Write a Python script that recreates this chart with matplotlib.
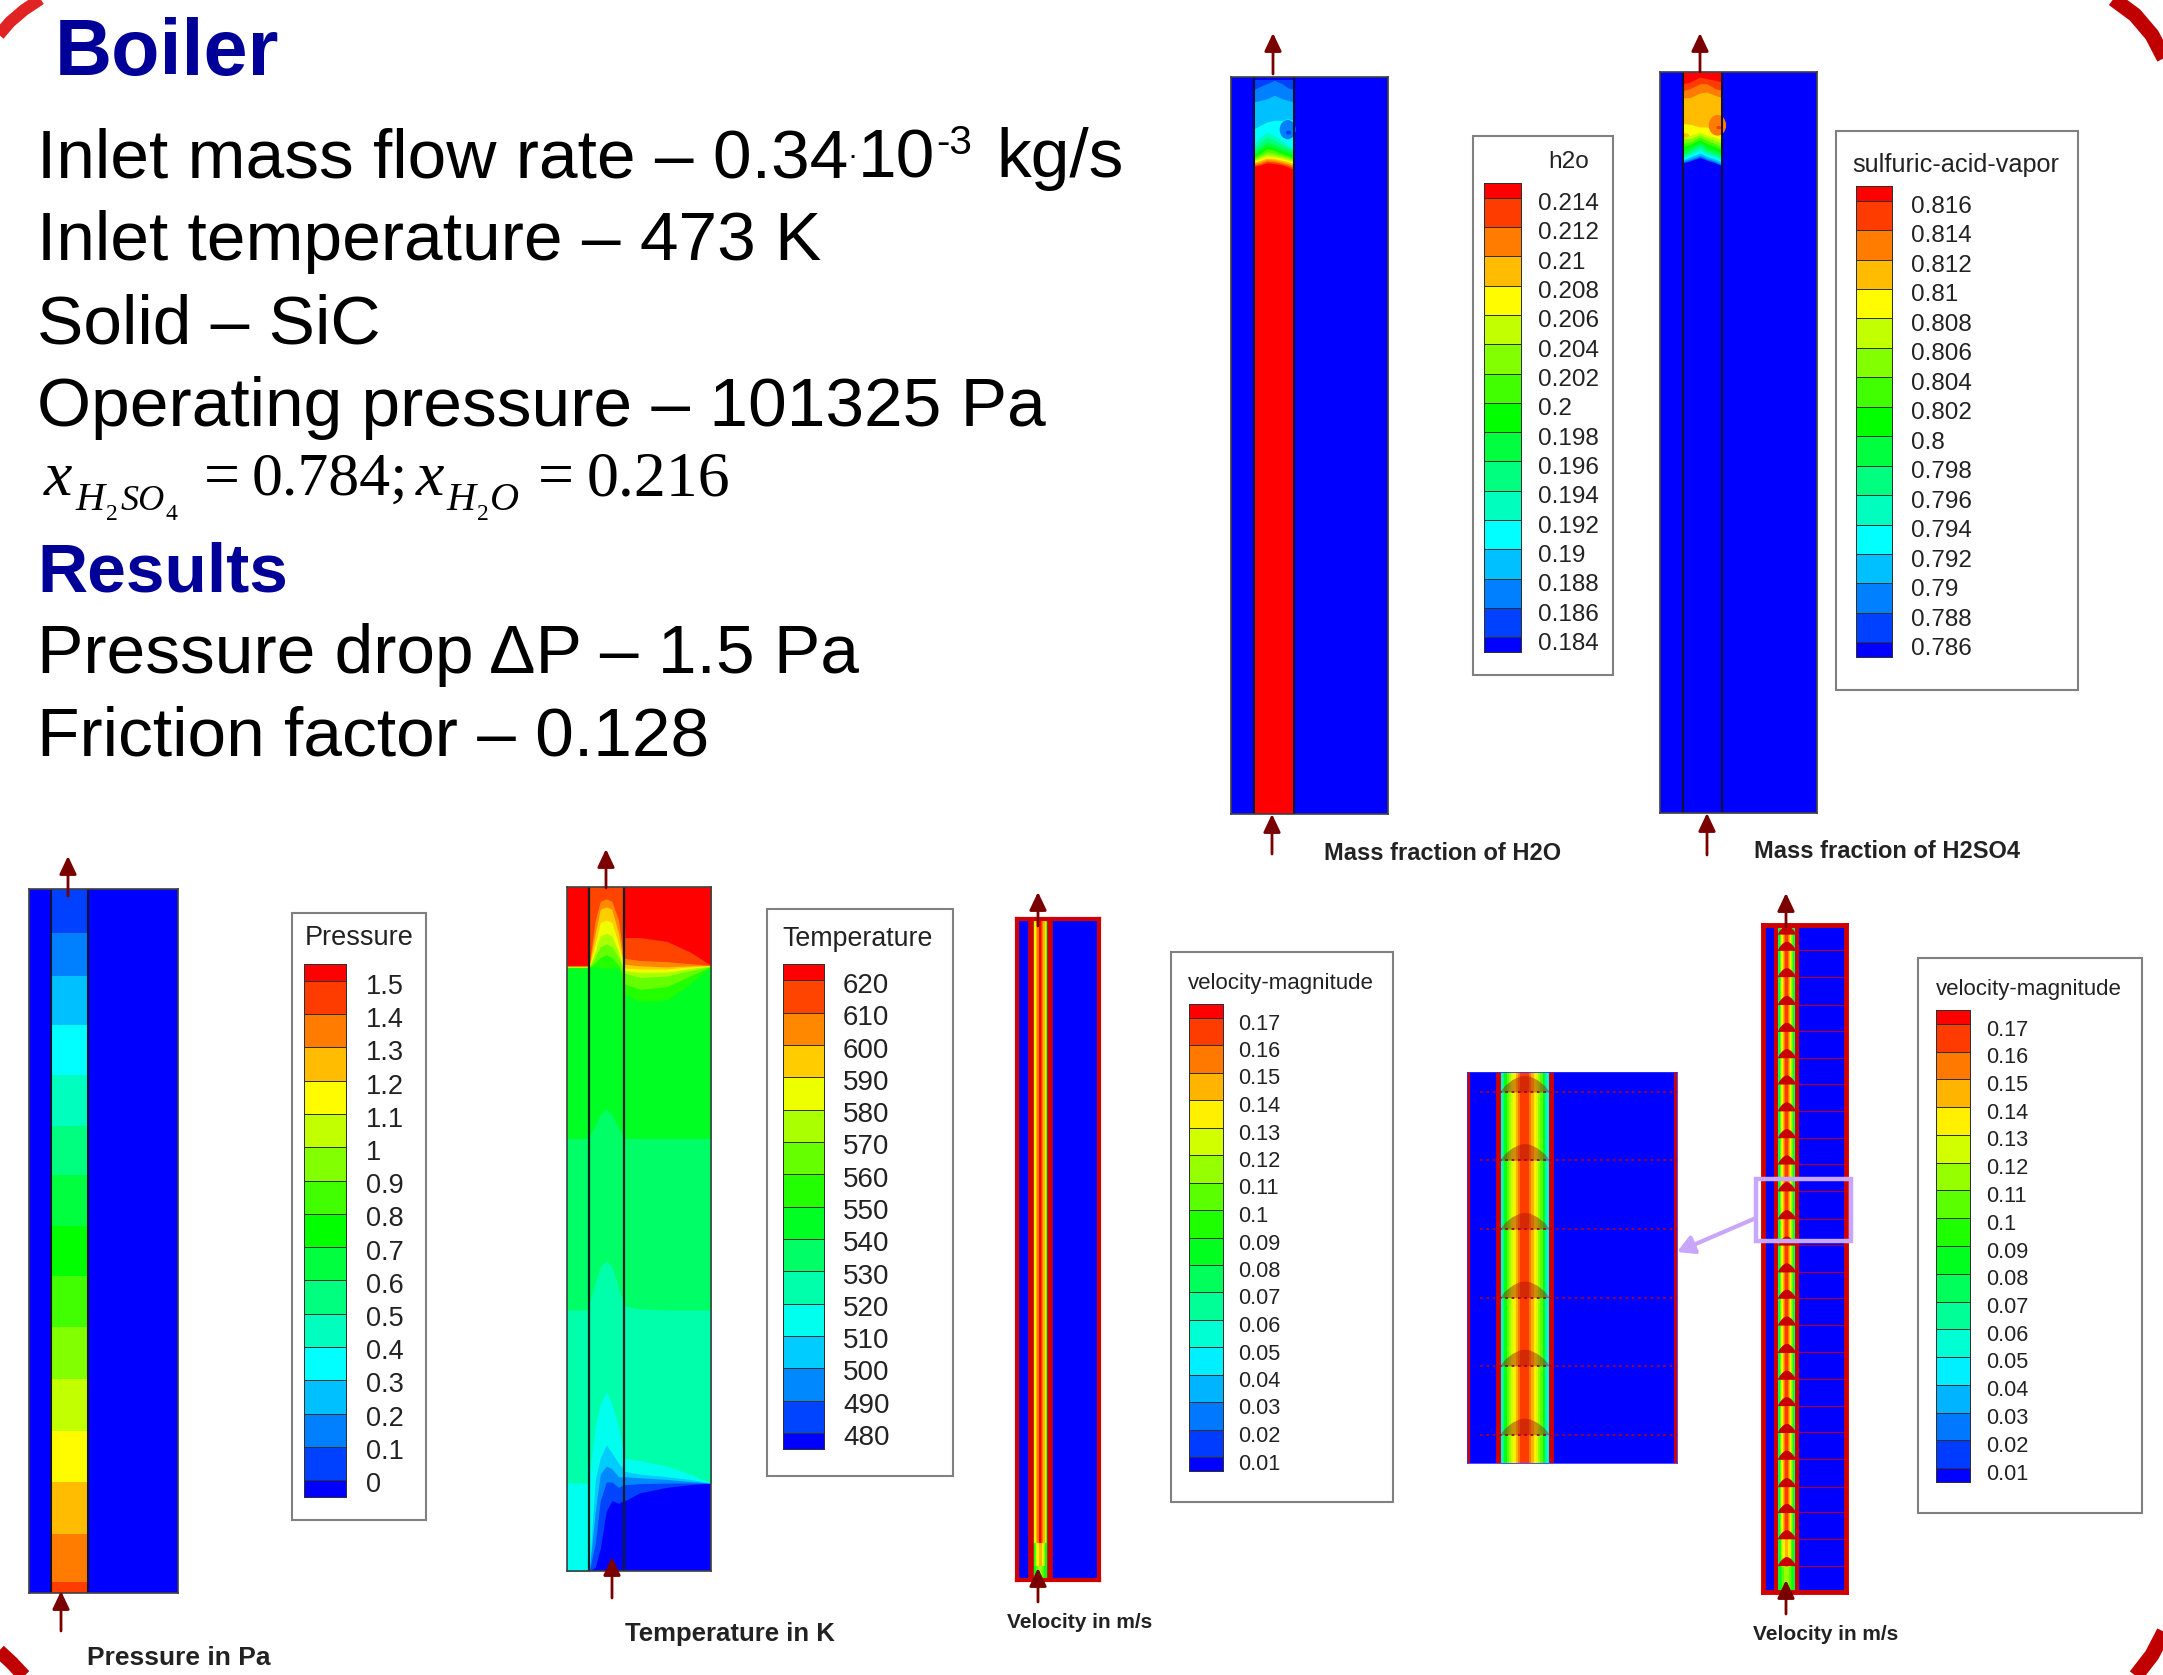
"""Boiler slide: simulation contour panels with their legends and the run summary."""

import numpy as np
import matplotlib

matplotlib.use("Agg")
import matplotlib.pyplot as plt
from matplotlib.colors import LinearSegmentedColormap, ListedColormap
from matplotlib.patches import Ellipse, Rectangle

W, H = 2163, 1675

RAINBOW = ["#0000ff", "#00ffff", "#00ff00", "#ffff00", "#ff0000"]
ARROW = "#7a0000"
NAVY = "#000099"
WALL = "#d00000"
LILAC = "#c8a6fb"

# legend tick labels
PRESSURE_LABELS = ["1.5", "1.4", "1.3", "1.2", "1.1", "1", "0.9", "0.8", "0.7", "0.6",
                   "0.5", "0.4", "0.3", "0.2", "0.1", "0"]
TEMP_LABELS = ["620", "610", "600", "590", "580", "570", "560", "550", "540", "530",
               "520", "510", "500", "490", "480"]
H2O_LABELS = ["0.214", "0.212", "0.21", "0.208", "0.206", "0.204", "0.202", "0.2",
              "0.198", "0.196", "0.194", "0.192", "0.19", "0.188", "0.186", "0.184"]
ACID_LABELS = ["0.816", "0.814", "0.812", "0.81", "0.808", "0.806", "0.804", "0.802",
               "0.8", "0.798", "0.796", "0.794", "0.792", "0.79", "0.788", "0.786"]
VEL_LABELS = ["0.17", "0.16", "0.15", "0.14", "0.13", "0.12", "0.11", "0.1", "0.09",
              "0.08", "0.07", "0.06", "0.05", "0.04", "0.03", "0.02", "0.01"]

# pressure channel: band edges down the channel and the colour level of each band
PRESSURE_EDGES = [92, 175, 255, 348, 442, 537, 630, 725, 820, 915, 1013, 1110, 1207, 1305, 1395, 1415]
PRESSURE_LEVELS = [1, 2, 3, 4, 5, 6, 7, 8, 9, 10, 11, 12, 13, 14, 15]

# temperature: lower edge of each colour level (0 to 15) at the columns in TEMP_X
TEMP_X = [80, 145, 147, 165, 180, 198, 215, 235, 250, 254, 300, 380, 450, 513]
TEMP_EDGES = [
    [1372] * 14,
    [1372, 1372, 1372, 1365, 1330, 1260, 1240, 1245, 1240, 1240, 1225, 1215, 1210, 1207],
    [1372, 1372, 1372, 1320, 1240, 1205, 1205, 1215, 1210, 1210, 1208, 1207, 1207, 1207],
    [1372, 1372, 1372, 1260, 1190, 1175, 1180, 1195, 1195, 1195, 1197, 1200, 1204, 1207],
    [1372, 1372, 1372, 1200, 1160, 1135, 1150, 1170, 1180, 1185, 1190, 1195, 1200, 1207],
    [1207, 1207, 1190, 1100, 1060, 1035, 1060, 1100, 1150, 1160, 1165, 1175, 1190, 1207],
    [882, 882, 870, 830, 800, 790, 800, 840, 870, 875, 880, 882, 882, 882],
    [560, 560, 555, 535, 515, 505, 515, 540, 558, 560, 560, 560, 560, 560],
    [240, 240, 240, 238, 240, 240, 240, 240, 285, 290, 303, 300, 270, 238],
    [239, 239, 239, 230, 220, 215, 220, 235, 255, 270, 280, 275, 255, 237],
    [238, 238, 238, 220, 200, 195, 200, 220, 245, 250, 258, 255, 245, 237],
    [238, 238, 237, 210, 180, 175, 180, 210, 240, 245, 248, 248, 241, 236],
    [237, 237, 236, 195, 155, 150, 155, 195, 236, 240, 242, 242, 238, 236],
    [237, 237, 235, 175, 130, 125, 130, 175, 232, 233, 236, 238, 236, 235],
    [236, 236, 232, 150, 115, 110, 115, 150, 220, 222, 226, 228, 232, 235],
    [235, 235, 88, 88, 88, 88, 88, 88, 88, 183, 183, 190, 210, 235],
]

# h2o mass fraction: lower edge of each colour level (0 to 15) across the channel, 16 fills the rest
H2O_X = [161, 180, 200, 222, 245, 262, 280]
H2O_EDGES = [
    [238, 238, 238, 238, 238, 238, 238],
    [268, 258, 250, 240, 250, 262, 268],
    [305, 300, 295, 285, 295, 300, 305],
    [385, 375, 365, 360, 360, 355, 360],
    [430, 410, 395, 405, 420, 435, 445],
    [445, 425, 410, 420, 432, 440, 450],
    [455, 440, 425, 432, 442, 448, 458],
    [465, 450, 435, 442, 452, 458, 465],
    [470, 458, 445, 450, 460, 465, 472],
    [475, 465, 455, 458, 465, 470, 478],
    [480, 470, 462, 465, 470, 475, 482],
    [483, 475, 468, 470, 475, 480, 486],
    [486, 480, 473, 475, 480, 484, 490],
    [490, 485, 478, 480, 485, 490, 495],
    [495, 490, 483, 485, 490, 495, 502],
    [498, 494, 488, 490, 494, 500, 508],
]
H2O_BLOBS = [(262, 388, 48, 58, 2), (265, 397, 16, 12, 1)]

# sulfuric acid: lower edge of colour levels 16 down to 1 across the channel, 0 fills the rest
ACID_X = [130, 150, 180, 200, 225, 247]
ACID_EDGES = [
    [190, 185, 170, 175, 180, 185],
    [210, 205, 190, 190, 205, 210],
    [232, 232, 218, 215, 225, 232],
    [310, 312, 320, 320, 335, 345],
    [345, 345, 335, 345, 350, 360],
    [355, 355, 343, 352, 360, 370],
    [368, 365, 350, 360, 370, 380],
    [378, 372, 358, 370, 378, 390],
    [392, 380, 365, 380, 390, 400],
    [402, 390, 372, 388, 398, 408],
    [408, 398, 382, 396, 405, 415],
    [412, 404, 390, 402, 410, 420],
    [418, 410, 398, 408, 416, 426],
    [422, 416, 405, 414, 422, 432],
    [426, 420, 410, 418, 426, 436],
    [428, 422, 412, 420, 428, 438],
]
ACID_BLOBS = [(232, 315, 52, 62, 14), (236, 322, 16, 10, 15), (137, 345, 20, 12, 13)]

# velocity colour level across the channel: developed flow, then near the inlet
VEL_PROFILE = [4, 6, 8, 10, 11, 12, 13, 14, 15, 16, 16, 16, 16, 15, 14, 13, 12, 11, 10, 8, 6, 4]
VEL_CORE = [6, 8, 10, 12, 13, 14, 14, 15, 15, 16, 17, 17, 16, 15, 15, 14, 14, 13, 12, 10, 8, 6]
VEL_INLET_A = [4, 6, 8, 9, 10, 11, 12, 13, 13, 14, 14, 14, 14, 13, 13, 12, 11, 10, 9, 8, 6, 4]
VEL_INLET_B = [5, 7, 8, 8, 9, 9, 10, 10, 11, 11, 11, 11, 11, 11, 10, 10, 9, 9, 8, 8, 7, 5]

VEL1_ROW_EDGES = [115, 1340, 1385, 1412]
VEL2_ROW_EDGES = [88, 1300, 1355, 1405]
VEL2_LINES = [138, 190, 245, 298, 350, 402, 455, 508, 560, 613, 668, 720, 773, 825, 878,
              932, 985, 1037, 1090, 1143, 1197, 1248, 1300, 1353]
INSET_LINES = [125, 330, 537, 743, 948, 1155]
DOME_X = [0, 0.1, 0.25, 0.4, 0.5, 0.6, 0.75, 0.9, 1]
DOME_H = [0, 0.4, 0.75, 0.96, 1, 0.96, 0.75, 0.4, 0]

# red frame showing at the slide corners
CORNERS = [
    ([42, 24, 10, -2], [-2, 10, 22, 36], "#e02424", 12),
    ([2112, 2135, 2152, 2166], [-2, 15, 35, 62], "#c00000", 15),
    ([2166, 2152, 2135], [1628, 1655, 1677], "#c00000", 15),
    ([-2, 12, 26], [1650, 1663, 1678], "#c00000", 14),
]

SUMMARY = [
    ("Inlet mass flow rate – 0.34", 177),
    ("Inlet temperature – 473 K", 260),
    ("Solid – SiC", 343),
    ("Operating pressure – 101325 Pa", 426),
    ("Pressure drop ΔP – 1.5 Pa", 673),
    ("Friction factor – 0.128", 756),
]

fig = plt.figure(figsize=(W / 100, H / 100), dpi=100, facecolor="white")
ramp = LinearSegmentedColormap.from_list("fluent", RAINBOW)

page = fig.add_axes([0, 0, 1, 1], zorder=10)
page.set_xlim(0, W)
page.set_ylim(H, 0)
page.set_autoscale_on(False)
page.axis("off")
page.patch.set_alpha(0)


def levels(n):
    return ListedColormap([ramp(i / (n - 1)) for i in range(n)])


def panel(box, xlim, ylim, edge="#404040", lw=1.2):
    x0, y0, x1, y1 = box
    ax = fig.add_axes([x0 / W, 1 - y1 / H, (x1 - x0) / W, (y1 - y0) / H], zorder=1)
    ax.set_xlim(*xlim)
    ax.set_ylim(ylim[1], ylim[0])
    ax.set_autoscale_on(False)
    ax.set_xticks([])
    ax.set_yticks([])
    ax.set_facecolor("#0000ff")
    for s in ax.spines.values():
        s.set_color(edge)
        s.set_linewidth(lw)
    return ax


def legend(box, title, title_xy, title_size, bar, labels, label_x, label_ys, size):
    x0, y0, x1, y1 = box
    page.add_patch(Rectangle((x0, y0), x1 - x0, y1 - y0, fc="white", ec="#808080", lw=1.5))
    page.text(title_xy[0], title_xy[1] + 2, title, ha="center", va="center", fontsize=title_size,
              family="Liberation Sans", color="#222222")
    bx0, by0, bx1, by1 = bar
    n = len(labels) + 1
    step = (by1 - by0) / (n - 1)
    edges = np.r_[by0, by0 + step / 2 + step * np.arange(n - 1), by1]
    page.pcolormesh([bx0, bx1], edges, np.arange(n)[::-1].reshape(-1, 1), cmap=levels(n),
                    vmin=-0.5, vmax=n - 0.5, edgecolors="#303030", linewidth=0.7)
    for lab, y in zip(labels, np.linspace(label_ys[0], label_ys[1], len(labels))):
        page.text(label_x, y + 2, lab, ha="left", va="center", fontsize=size,
                  family="Liberation Sans", color="#222222")


def bands(ax, xs, rows, ks, top, colors):
    for k, row in zip(ks, rows):
        ax.fill_between(xs, top, row, color=colors(k), lw=0)


def blobs(ax, items, colors):
    for x, y, w, h, k in items:
        ax.add_patch(Ellipse((x, y), w, h, fc=colors(k), ec="none"))


def channel(ax, x0, x1, row_edges, profiles, n=18):
    xs = np.linspace(x0, x1, len(profiles[0]) + 1)
    ax.pcolormesh(xs, row_edges, np.array(profiles), cmap=levels(n), vmin=-0.5, vmax=n - 0.5,
                  shading="flat")


def domes(ax, x0, x1, lines, height, color, alpha=1.0):
    xs = x0 + np.array(DOME_X) * (x1 - x0)
    for y in lines:
        ax.fill_between(xs, y - np.array(DOME_H) * height, y, color=color, alpha=alpha, lw=0)


def arrow(x, y_from, y_to):
    page.annotate("", xy=(x, y_to), xytext=(x, y_from),
                  arrowprops=dict(arrowstyle="-|>,head_length=0.55,head_width=0.26", color=ARROW,
                                  lw=2, mutation_scale=20, shrinkA=0, shrinkB=0))


def caption(x, y, text, size):
    page.text(x, y + 2, text, ha="left", va="center", fontsize=size, fontweight="bold",
              family="Liberation Sans", color="#222222")


# corners first so everything else sits on top
for xs, ys, c, lw_px in CORNERS:
    page.plot(xs, ys, color=c, lw=lw_px * 0.72, solid_capstyle="butt")

# ---- text block
page.text(55, 75, "Boiler", fontsize=57, fontweight="bold", color=NAVY, family="Liberation Sans")
page.text(37, 591, "Results", fontsize=50, fontweight="bold", color=NAVY, family="Liberation Sans")
for line, base in SUMMARY:
    page.text(37, base, line, fontsize=50, color="black", family="Liberation Sans")
page.text(852, 165, "·", ha="center", fontsize=22, color="black", family="Liberation Sans")
page.text(858, 177, "10", fontsize=50, color="black", family="Liberation Sans")
page.text(936, 154, "-3", fontsize=29, color="black", family="Liberation Sans")
page.text(996, 177, "kg/s", fontsize=50, color="black", family="Liberation Sans")

SERIF = "Liberation Serif"
for x, base, s, size, style in [
    (44, 495, "x", 46, "italic"), (75, 510, "H", 29, "italic"), (106, 520, "2", 17, "normal"),
    (121, 510, "SO", 26, "italic"), (166, 520, "4", 17, "normal"), (204, 495, "=", 46, "normal"),
    (252, 495, "0.784;", 44.5, "normal"), (416, 495, "x", 46, "italic"), (446, 510, "H", 29, "italic"),
    (477, 520, "2", 17, "normal"), (490, 510, "O", 29, "italic"), (538, 495, "=", 46, "normal"),
    (587, 495, "0.216", 46, "normal"),
]:
    page.text(x, base, s, fontsize=size, style=style, family=SERIF, color="black")

# ---- pressure
c17 = levels(17)
ax = panel((29, 889, 178, 1593), (87, 533), (92, 1415))
ax.pcolormesh([153, 264], PRESSURE_EDGES, np.array(PRESSURE_LEVELS).reshape(-1, 1), cmap=c17,
              vmin=-0.5, vmax=16.5)
ax.vlines([153, 264], 92, 1415, color="#101030", lw=1.5)
legend((292, 913, 426, 1520), "Pressure", (359, 936), 19.5, (304, 964, 346, 1497),
       PRESSURE_LABELS, 366, (985, 1483), 19.5)
arrow(68, 896, 856)
arrow(61, 1631, 1591)
caption(87, 1656, "Pressure in Pa", 19)

# ---- temperature
c16 = levels(16)
ax = panel((567, 887, 711, 1571), (80, 513), (88, 1372))
bands(ax, TEMP_X, TEMP_EDGES, range(16), 88, c16)
ax.vlines([146, 252], 88, 1372, color="#102020", lw=1.6)
legend((767, 909, 953, 1476), "Temperature", (858, 937), 19.3, (783, 964, 824, 1449),
       TEMP_LABELS, 843, (984, 1436), 20)
arrow(606, 888, 849)
arrow(612, 1598, 1557)
caption(625, 1632, "Temperature in K", 18.5)

# ---- h2o
ax = panel((1231, 77, 1388, 814), (92, 563), (230, 2442))
ax.fill_between(H2O_X, 230, 2442, color=c17(16), lw=0)
bands(ax, H2O_X, H2O_EDGES[::-1], range(15, -1, -1), 230, c17)
blobs(ax, H2O_BLOBS, c17)
ax.vlines([161, 280], 230, 2442, color="#101030", lw=1.5)
legend((1473, 136, 1613, 675), "h2o", (1569, 160), 17.6, (1484, 183, 1521, 652),
       H2O_LABELS, 1538, (202, 642), 17.5)
arrow(1273, 74, 33)
arrow(1272, 854, 814)
caption(1324, 851, "Mass fraction of H2O", 17)

# ---- sulfuric acid
ax = panel((1660, 72, 1817, 813), (60, 530), (155, 2379))
bands(ax, ACID_X, ACID_EDGES[::-1], range(1, 17), 155, c17)
blobs(ax, ACID_BLOBS, c17)
ax.vlines([128, 247], 155, 2379, color="#101030", lw=1.5)
legend((1836, 131, 2078, 690), "sulfuric-acid-vapor", (1956, 163), 18.2, (1856, 186, 1892, 657),
       ACID_LABELS, 1911, (205, 647), 17.5)
arrow(1700, 72, 33)
arrow(1707, 855, 813)
caption(1754, 850, "Mass fraction of H2SO4", 17)

# ---- velocity, full length
ax = panel((1017, 919, 1099, 1580), (112, 358), (115, 1412), edge=WALL, lw=3)
channel(ax, 157, 206, VEL1_ROW_EDGES, [VEL_CORE, VEL_INLET_A, VEL_INLET_B])
ax.vlines([153, 210], 115, 1412, color=WALL, lw=4)
legend((1171, 952, 1393, 1502), "velocity-magnitude", (1281, 981), 16, (1189, 1004, 1223, 1471),
       VEL_LABELS, 1238, (1022, 1462), 15.7)
arrow(1038, 926, 892)
arrow(1038, 1602, 1568)
caption(1007, 1620, "Velocity in m/s", 15)

# ---- velocity with the porous layers
ax = panel((1763, 925, 1846, 1592), (68, 318), (88, 1405), edge=WALL, lw=3.5)
channel(ax, 111, 166, VEL2_ROW_EDGES, [VEL_PROFILE, VEL_INLET_A, VEL_INLET_B])
domes(ax, 111, 166, [88 + 18] + VEL2_LINES, 18, "#c80000")
ax.hlines(VEL2_LINES, 172, 312, color="#a00040", lw=0.9)
ax.vlines([108, 169], 88, 1405, color=WALL, lw=3)
legend((1918, 958, 2142, 1513), "velocity-magnitude", (2029, 987), 16, (1936, 1010, 1970, 1482),
       VEL_LABELS, 1986, (1028, 1472), 15.7)
arrow(1786, 927, 893)
arrow(1786, 1614, 1580)
caption(1753, 1632, "Velocity in m/s", 15)

# ---- zoomed section and its marker
ax = panel((1467, 1072, 1677, 1463), (52, 680), (65, 1240), edge="#3030ff", lw=0.6)
channel(ax, 150, 298, [65, 1240], [VEL_PROFILE])
domes(ax, 150, 298, INSET_LINES, 50, "#a01010", alpha=0.45)
ax.vlines([56, 145, 303, 676], 65, 1240, color=WALL, lw=[3, 3.5, 3.5, 3])
ax.hlines(INSET_LINES, 90, 680, color="#a00030", lw=1.3, linestyles=(0, (1.5, 2)))
page.add_patch(Rectangle((1756, 1179), 95, 62, fc="none", ec=LILAC, lw=3.2))
page.annotate("", xy=(1677, 1252), xytext=(1756, 1218),
              arrowprops=dict(arrowstyle="-|>,head_length=0.5,head_width=0.28", color=LILAC,
                              lw=3, mutation_scale=20, shrinkA=0, shrinkB=0))

fig.savefig("out.png", dpi=100, facecolor="white")
